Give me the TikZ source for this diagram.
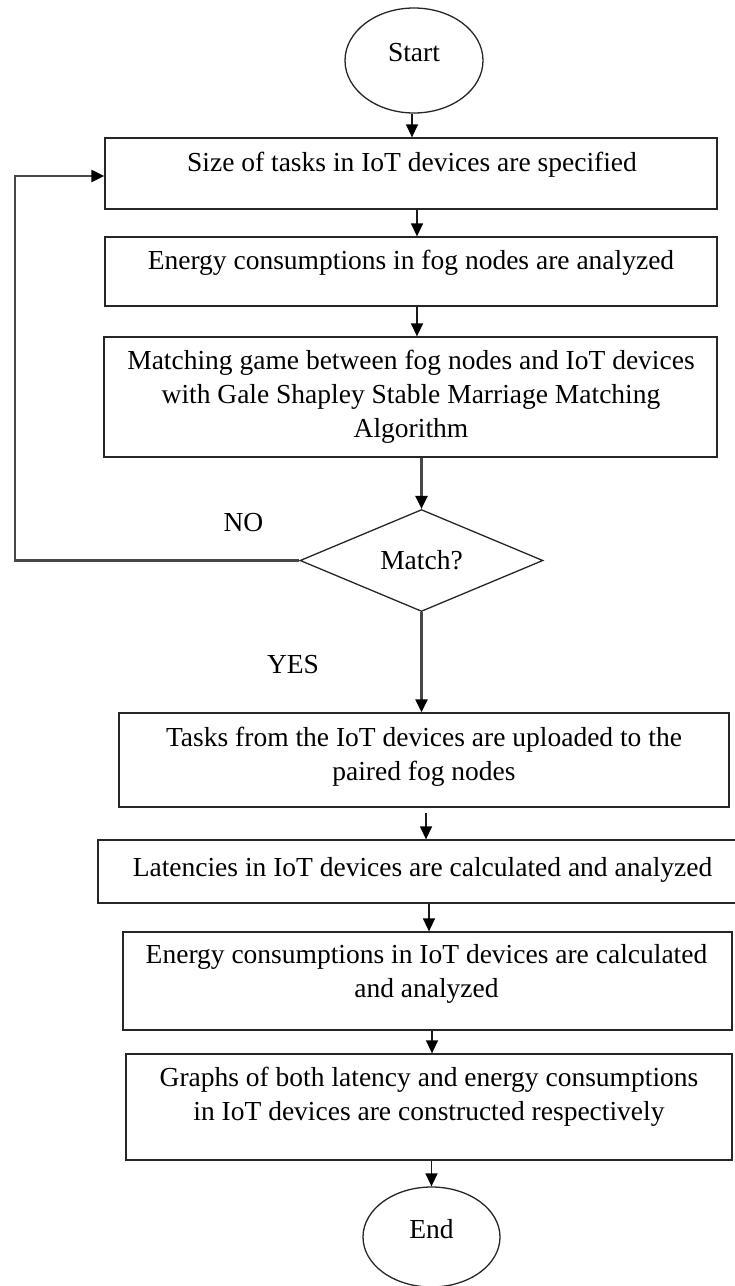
\documentclass[tikz,border=0pt]{standalone}
\usepackage{fontspec}
\setmainfont{Liberation Serif}
\usetikzlibrary{shapes.geometric,arrows.meta}
\begin{document}
\begin{tikzpicture}[x=1pt,y=-1pt,
  box/.style={draw=black!85, line width=1.3pt, rectangle, inner sep=0pt},
  txt/.style={font=\fontsize{27.5}{34}\selectfont, align=center, inner sep=0pt},
  term/.style={draw=black!85, line width=1.3pt, ellipse, inner sep=0pt,
    font=\fontsize{27.5}{34}\selectfont, text depth=16pt},
  decision/.style={draw=black!85, line width=1.3pt, diamond, inner sep=0pt,
    font=\fontsize{27.5}{34}\selectfont},
  conn/.style={draw=black!72, line width=2.2pt,
    -{Triangle[length=13pt,width=12pt,color=black]}},
  shortconn/.style={draw=black!90, line width=1.4pt,
    -{Triangle[length=13pt,width=12pt,color=black]}},
]
\useasboundingbox (0,0) rectangle (735,1286);

% terminals
\node[term, minimum width=138pt, minimum height=105pt] (st) at (414,60.5) {Start};
\node[term, minimum width=137pt, minimum height=100pt] (en) at (431.5,1237) {End};

% boxes
\node[box, minimum width=612pt, minimum height=71pt] (b1) at (411,173.5) {};
\node[txt] (t1) at (412,165) {Size of tasks in IoT devices are specified};

\node[box, minimum width=612pt, minimum height=69pt] (b2) at (411,271.5) {};
\node[txt] (t2) at (411,263) {Energy consumptions in fog nodes are analyzed};

\node[box, minimum width=613pt, minimum height=120pt] (b3) at (410.5,397) {};
\node[txt] (t3) at (411,397) {Matching game between fog nodes and IoT devices\\with Gale Shapley Stable Marriage Matching\\Algorithm};

\node[decision, minimum width=243pt, minimum height=95pt] (dm) at (421.5,560.5) {Match?};

\node[box, minimum width=610pt, minimum height=94pt] (b4) at (424,760) {};
\node[txt] (t4) at (424,757) {Tasks from the IoT devices are uploaded to the\\paired fog nodes};

\node[box, minimum width=647pt, minimum height=63pt] (b5) at (421.5,871.5) {};
\node[txt] (t5) at (422.5,870) {Latencies in IoT devices are calculated and analyzed};

\node[box, minimum width=609pt, minimum height=98pt] (b6) at (427.5,981) {};
\node[txt] (t6) at (426.5,974) {Energy consumptions in IoT devices are calculated\\and analyzed};

\node[box, minimum width=606pt, minimum height=106pt] (b7) at (429,1107) {};
\node[txt] (t7) at (429,1097) {Graphs of both latency and energy consumptions\\in IoT devices are constructed respectively};

% labels
\node[txt] (no) at (243.5,523) {NO};
\node[txt] (yes) at (293,665) {YES};

% connectors
\draw[shortconn] ([xshift=-2pt]st.south) -- ([xshift=-2pt]st.south |- b1.north);
\draw[shortconn] ([xshift=6pt]b1.south) -- ([xshift=6pt]b1.south |- b2.north);
\draw[shortconn] ([xshift=6pt]b2.south) -- ([xshift=6pt]b2.south |- b3.north);
\draw[conn] (dm.north |- b3.south) -- (dm.north);
\draw[conn] (dm.south) -- (dm.south |- b4.north);
\draw[shortconn, shorten <=5pt] ([xshift=2pt]b4.south) -- ([xshift=2pt]b4.south |- b5.north);
\draw[shortconn] ([xshift=7.5pt]b5.south) -- ([xshift=7.5pt]b5.south |- b6.north);
\draw[shortconn] ([xshift=4.5pt]b6.south) -- ([xshift=4.5pt]b6.south |- b7.north);
\draw[shortconn] (en.north |- b7.south) -- (en.north);

\coordinate (lp) at (15,176);
\draw[conn] (dm.west) -| (lp) -- (lp -| b1.west);
\end{tikzpicture}
\end{document}
